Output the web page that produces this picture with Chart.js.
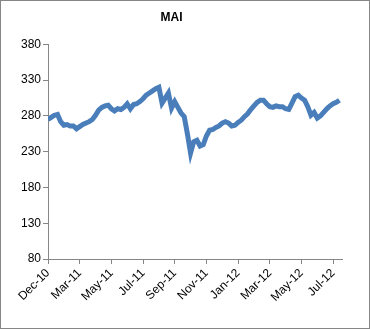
<!doctype html>
<html>

<head>
	<title>MAI</title>
	<script src="https://cdn.jsdelivr.net/npm/chart.js@4/dist/chart.umd.min.js"></script>
	<style>
		body {
			margin: 0;
			background: #fff;
		}
		#chart-holder {
			width: 370px;
			height: 329px;
			box-sizing: border-box;
			border: 1px solid #868686;
		}
	</style>
</head>

<body>
	<div id="chart-holder">
		<canvas id="chart-area" width="368" height="327"></canvas>
	</div>
	<script>
		// one label every 10 readings (about two months of trading days)
		const pointsPerTick = 10;
		const tickLabels = ['Dec-10', 'Mar-11', 'May-11', 'Jul-11', 'Sep-11', 'Nov-11', 'Jan-12', 'Mar-12', 'May-12', 'Jul-12'];
		const maiValues = [
			275, 278, 281, 282, 272, 267, 268, 266, 266, 262,
			265, 268, 270, 272, 275, 281, 288, 292, 294, 295,
			290, 287, 290, 289, 292, 297, 290, 296, 297, 300,
			304, 309, 312, 315, 318, 320, 298, 305, 312, 291,
			300, 292, 284, 279, 255, 228, 244, 246, 238, 240,
			252, 260, 261, 264, 266, 270, 272, 270, 266, 267,
			271, 274, 279, 283, 289, 294, 299, 302, 302, 297,
			293, 292, 294, 293, 293, 290, 289, 298, 307, 309,
			305, 302, 293, 281, 285, 277, 280, 285, 290, 294,
			297, 299, 302
		];
		const yTicks = { min: 80, max: 380, step: 50 };

		const axisGrey = '#868686';
		const tickFont = { family: 'Liberation Sans', size: 12 };

		const config = {
			type: 'line',
			data: {
				datasets: [{
					label: 'MAI',
					data: maiValues.map((v, i) => ({ x: i, y: v })),
					borderColor: '#4a7ebb',
					borderWidth: 5,
					pointRadius: 0,
					tension: 0,
					fill: false
				}]
			},
			options: {
				responsive: false,
				animation: false,
				devicePixelRatio: 1,
				layout: {
					padding: { left: 0, right: 27, top: 0, bottom: 0 }
				},
				plugins: {
					legend: { display: false },
					tooltip: { enabled: false },
					title: {
						display: true,
						text: 'MAI',
						color: '#000',
						font: { family: 'Liberation Sans', size: 12, weight: 'bold' },
						padding: { top: 9, bottom: 20 }
					}
				},
				scales: {
					x: {
						type: 'linear',
						min: 0,
						max: 92.8,
						afterFit(scale) {
							scale.height = 69;
						},
						border: { display: true, color: axisGrey, width: 1 },
						grid: {
							drawOnChartArea: false,
							drawTicks: true,
							tickLength: 5,
							color: axisGrey
						},
						ticks: {
							stepSize: pointsPerTick,
							includeBounds: false,
							autoSkip: false,
							maxRotation: 45,
							minRotation: 45,
							padding: 2,
							color: '#000',
							font: tickFont,
							callback: (v) => tickLabels[Math.round(v / pointsPerTick)] || ''
						}
					},
					y: {
						min: yTicks.min,
						max: yTicks.max,
						afterFit(scale) {
							scale.width = 47;
						},
						border: { display: true, color: axisGrey, width: 1 },
						grid: {
							drawOnChartArea: false,
							drawTicks: true,
							tickLength: 5,
							color: axisGrey
						},
						ticks: {
							stepSize: yTicks.step,
							padding: 2,
							color: '#000',
							font: tickFont
						}
					}
				}
			}
		};

		const ctx = document.getElementById('chart-area');
		window.myLine = new Chart(ctx, config);
	</script>
</body>

</html>
